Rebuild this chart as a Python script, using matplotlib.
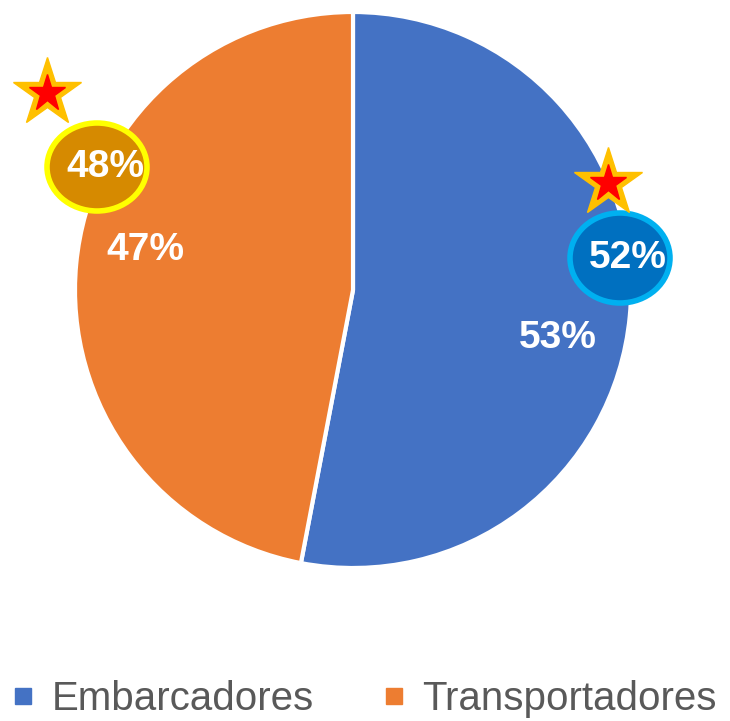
import matplotlib.pyplot as plt
from matplotlib.patches import Ellipse
from matplotlib.lines import Line2D

# Data
categories = ['Embarcadores', 'Transportadores']
shares = [53, 47]
colors = ['#4472C4', '#ED7D31']
prev_labels = ['52%', '48%']

fig = plt.figure(figsize=(7.30, 7.21), dpi=100)
ax = fig.add_axes([0, 0, 1, 1])
ax.set_xlim(0, 730)
ax.set_ylim(0, 721)
ax.set_aspect('equal')
ax.axis('off')

# pie in pixel-like coordinates (y up)
wedges, texts = ax.pie(shares, colors=colors, startangle=90, counterclock=False,
                       center=(353, 431), radius=278,
                       wedgeprops=dict(edgecolor='white', linewidth=3))
ax.set_xlim(0, 730)
ax.set_ylim(0, 721)

lab_font = dict(family='Liberation Sans', weight='bold', color='white')
ax.text(558, 721 - 338, f'{shares[0]}%', fontsize=28, ha='center', va='center', **lab_font)
ax.text(145, 721 - 250, f'{shares[1]}%', fontsize=28, ha='center', va='center', **lab_font)

# previous-year bubbles
ax.add_patch(Ellipse((620, 721 - 258), 100, 90, facecolor='#0070C0', edgecolor='#00B0F0', linewidth=4, zorder=5))
ax.text(628, 721 - 258, prev_labels[0], fontsize=28, ha='center', va='center', zorder=6, **lab_font)
ax.add_patch(Ellipse((97, 721 - 167), 100, 88, facecolor='#D68A00', edgecolor='#FFFF00', linewidth=4, zorder=5))
ax.text(105, 721 - 167, prev_labels[1], fontsize=28, ha='center', va='center', zorder=6, **lab_font)

# stars
for sx, sy in [(47, 93), (608, 183)]:
    ax.plot(sx, 721 - sy, marker='*', markersize=52, color='#FFC000', zorder=7)
    ax.plot(sx, 721 - sy, marker='*', markersize=28, color='#FF0000', zorder=8)

handles = [Line2D([], [], marker='s', linestyle='none', markersize=12, color=c) for c in colors]
leg = fig.legend(handles, categories, loc='lower center', ncol=2, frameon=False,
                 bbox_to_anchor=(0.5, -0.035), handlelength=0.5, handletextpad=0.45,
                 columnspacing=1.75, borderpad=0.2,
                 prop=dict(family='Liberation Sans', size=29))
for t in leg.get_texts():
    t.set_color('#595959')

fig.savefig('out.png', dpi=100)
